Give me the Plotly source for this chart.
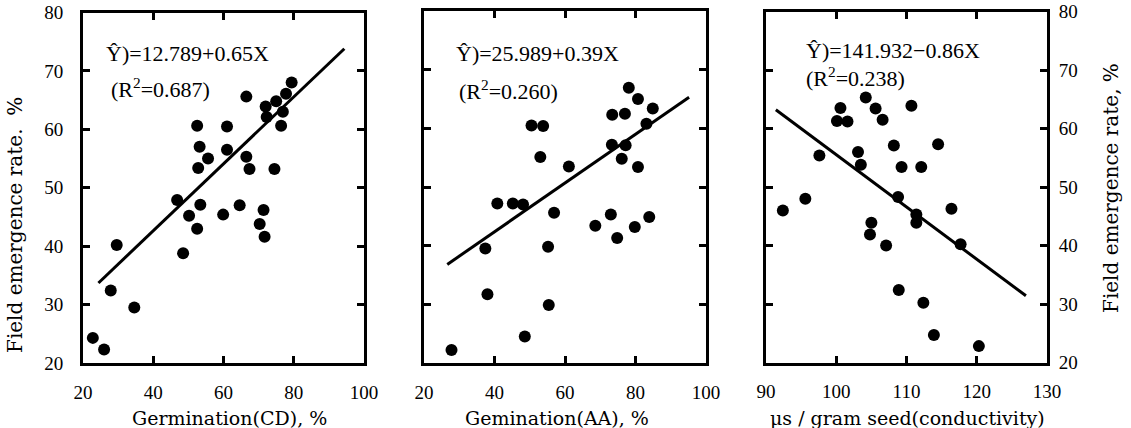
import plotly.graph_objects as go

W, H = 1131, 428

# ---- Panel 1: Germination (CD) ----
cd_x = [22.8, 26.0, 27.9, 29.6, 34.6, 46.8, 48.5, 50.2, 52.5, 52.5, 52.8, 53.2, 53.4, 55.6, 59.9, 61.0,
        61.0, 64.6, 66.5, 66.5, 67.4, 70.3, 71.4, 71.7, 72.0, 72.3, 74.5, 75.0, 76.4, 76.9, 77.8, 79.4]
cd_y = [24.3, 22.3, 32.4, 40.2, 29.5, 47.9, 38.8, 45.2, 43.0, 60.6, 53.4, 57.0, 47.1, 55.0, 45.4, 60.5,
        56.5, 47.0, 65.6, 55.3, 53.2, 43.8, 46.2, 41.6, 63.9, 62.1, 53.2, 64.8, 60.6, 63.0, 66.1, 68.0]
cd_fit_x = [24.4, 94.4]
cd_fit_y = [33.7, 73.8]

# ---- Panel 2: Gemination (AA) ----
aa_x = [27.8, 37.4, 38.0, 40.8, 45.2, 48.1, 48.6, 50.5, 53.8, 53.0, 55.2, 55.4, 56.9, 61.1, 68.6,
        73.0, 73.4, 73.3, 74.8, 76.1, 77.0, 77.2, 78.1, 79.8, 80.7, 80.7, 83.1, 83.9, 84.9]
aa_y = [22.2, 39.5, 31.7, 47.2, 47.2, 47.0, 24.5, 60.5, 60.4, 55.1, 39.8, 29.9, 45.6, 53.5, 43.4,
        45.3, 62.3, 57.2, 41.3, 54.8, 62.5, 57.1, 66.9, 43.2, 53.4, 65.0, 60.8, 44.9, 63.4]
aa_fit_x = [26.6, 95.2]
aa_fit_y = [36.8, 65.3]

# ---- Panel 3: Conductivity ----
ec_x = [92.4, 95.6, 97.6, 100.1, 100.6, 101.6, 103.1, 103.5, 104.2, 104.8, 105.0, 105.6, 106.6, 107.1,
        108.2, 108.8, 108.9, 109.3, 110.7, 111.4, 111.4, 112.1, 112.4, 113.9, 114.5, 116.4, 117.7, 120.3]
ec_y = [46.0, 48.0, 55.4, 61.3, 63.5, 61.2, 56.0, 53.8, 65.3, 41.9, 43.9, 63.4, 61.5, 40.0,
        57.1, 48.3, 32.4, 53.4, 63.9, 45.3, 43.9, 53.4, 30.2, 24.7, 57.3, 46.3, 40.2, 22.8]
ec_fit_x = [91.4, 127.0]
ec_fit_y = [63.2, 31.4]

y_ticks = [20, 30, 40, 50, 60, 70, 80]
x1_ticks = [20, 40, 60, 80, 100]
x3_ticks = [90, 100, 110, 120, 130]

eq_texts = ["Ŷ)=12.789+0.65X", "Ŷ)=25.989+0.39X", "Ŷ)=141.932−0.86X"]
r2_texts = ["(R<sup>2</sup>=0.687)", "(R<sup>2</sup>=0.260)", "(R<sup>2</sup>=0.238)"]
x_titles = ["Germination(CD), %", "Gemination(AA), %", "μs / gram seed(conductivity)"]
y_title_left = "Field emergence rate.  %"
y_title_right = "Field emergence rate, %"

SERIF = "Liberation Serif"
TITLE_FONT = "DejaVu Serif"


def px_x(p):
    return p / W


def px_y(p):
    return 1 - p / H


fig = go.Figure()
panels = [(cd_x, cd_y, cd_fit_x, cd_fit_y), (aa_x, aa_y, aa_fit_x, aa_fit_y), (ec_x, ec_y, ec_fit_x, ec_fit_y)]
for i, (xs, ys, fx, fy) in enumerate(panels):
    xa = "x" if i == 0 else f"x{i+1}"
    ya = "y" if i == 0 else f"y{i+1}"
    fig.add_trace(go.Scatter(x=fx, y=fy, mode="lines", line=dict(color="black", width=3),
                             xaxis=xa, yaxis=ya, showlegend=False, hoverinfo="skip"))
    fig.add_trace(go.Scatter(x=xs, y=ys, mode="markers", marker=dict(color="black", size=12),
                             xaxis=xa, yaxis=ya, showlegend=False))

x_domains_px = [(83, 364), (424, 706), (766, 1047)]
y_domains_px = [(12.5, 363), (11, 363), (11.5, 362.5)]

axis_common = dict(showline=True, linecolor="black", linewidth=3, mirror="allticks",
                   ticks="inside", ticklen=7, tickwidth=2.5, tickcolor="black",
                   showgrid=False, zeroline=False, automargin=False, ticklabeloverflow="allow",
                   tickfont=dict(family=SERIF, size=19, color="black"))

layout = dict(width=W, height=H, margin=dict(l=0, r=0, t=0, b=0, autoexpand=False),
              paper_bgcolor="white", plot_bgcolor="white", showlegend=False)

for i in range(3):
    xk = "xaxis" if i == 0 else f"xaxis{i+1}"
    yk = "yaxis" if i == 0 else f"yaxis{i+1}"
    ya = "y" if i == 0 else f"y{i+1}"
    xa = "x" if i == 0 else f"x{i+1}"
    xd = [px_x(x_domains_px[i][0]), px_x(x_domains_px[i][1])]
    yd = [px_y(y_domains_px[i][1]), px_y(y_domains_px[i][0])]
    xticks = x3_ticks if i == 2 else x1_ticks
    xr = [90, 130] if i == 2 else [20, 100]
    layout[xk] = dict(axis_common, domain=xd, range=xr, tickvals=xticks, anchor=ya,
                      ticklabelstandoff=10)
    layout[yk] = dict(axis_common, domain=yd, range=[20, 80], tickvals=y_ticks, anchor=xa,
                      showticklabels=(i != 1), side=("right" if i == 2 else "left"),
                      ticklabelstandoff=(13 if i == 0 else 5))

annotations = []
eq_pos = [(104, 53, 109, 88), (454, 53, 457, 90), (804, 51, 804, 77)]
for i in range(3):
    ex, ey, rx, ry = eq_pos[i]
    annotations.append(dict(text=eq_texts[i], x=px_x(ex), y=px_y(ey), xref="paper", yref="paper",
                            xanchor="left", yanchor="middle", showarrow=False,
                            font=dict(family=SERIF, size=22, color="black")))
    annotations.append(dict(text=r2_texts[i], x=px_x(rx), y=px_y(ry), xref="paper", yref="paper",
                            xanchor="left", yanchor="middle", showarrow=False,
                            font=dict(family=SERIF, size=22, color="black")))

xt_centers = [229, 557, 907]
for i in range(3):
    annotations.append(dict(text=x_titles[i], x=px_x(xt_centers[i]), y=px_y(418), xref="paper", yref="paper",
                            xanchor="center", yanchor="middle", showarrow=False,
                            font=dict(family=TITLE_FONT, size=19, color="black")))

annotations.append(dict(text=y_title_left, x=px_x(15), y=px_y(225), xref="paper", yref="paper",
                        xanchor="center", yanchor="middle", showarrow=False, textangle=-90,
                        font=dict(family=TITLE_FONT, size=20, color="black")))
annotations.append(dict(text=y_title_right, x=px_x(1111), y=px_y(188), xref="paper", yref="paper",
                        xanchor="center", yanchor="middle", showarrow=False, textangle=-90,
                        font=dict(family=TITLE_FONT, size=20, color="black")))

layout["annotations"] = annotations
fig.update_layout(**layout)
fig.write_html("out.html", config={"displayModeBar": False},
               post_script="document.body.style.margin='0';document.body.style.overflow='hidden';")
